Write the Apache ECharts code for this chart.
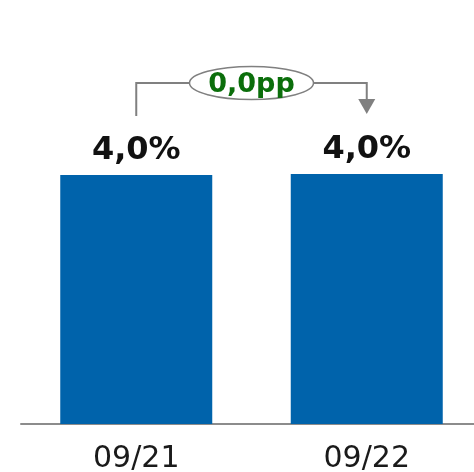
<!DOCTYPE html>
<html><head><meta charset="utf-8">
<script src="https://cdn.jsdelivr.net/npm/echarts@6/dist/echarts.min.js"></script>
<style>html,body{margin:0;padding:0;background:#fff}#c{width:474px;height:472px}</style>
</head><body><div id="c"></div>
<script>
const categories = ['09/21', '09/22'];
const values = [3.985, 4.0];
const changeLabel = '0,0pp';

const chart = echarts.init(document.getElementById('c'), null, {renderer: 'canvas'});
const option = {
  animation: false,
  grid: {left: 21, top: 49, width: 461, bottom: 48, containLabel: false, outerBoundsMode: 'none'},
  xAxis: {
    type: 'category', data: categories,
    axisTick: {show: false},
    axisLine: {lineStyle: {color: '#8c8c8c', width: 2}},
    axisLabel: {fontSize: 30, color: '#1a1a1a', fontFamily: 'DejaVu Sans', margin: 20}
  },
  yAxis: {type: 'value', min: 0, max: 6, show: false, splitLine: {show: false}},
  series: [{
    type: 'bar', data: values, barWidth: 152,
    itemStyle: {color: '#0063AB'},
    label: {
      show: true, position: 'top', distance: 8,
      fontSize: 32, fontWeight: 'bold', color: '#111', fontFamily: 'DejaVu Sans',
      formatter: p => p.value.toFixed(1).replace('.', ',') + '%'
    }
  }]
};
chart.setOption(option);

const px = (i, v) => chart.convertToPixel({seriesIndex: 0}, [i, v]);
const a = px(0, 4.93), top1 = px(0, 5.456), top2 = px(1, 5.456), base2 = px(1, 5.2), tip2 = px(1, 4.96);
const cx = (a[0] + top2[0]) / 2, cy = top1[1];
const grey = '#808080';
chart.setOption({
  graphic: [
    {type: 'polyline', z: 100, shape: {points: [a, top1, top2, base2]}, style: {stroke: grey, lineWidth: 2, fill: null}},
    {type: 'polygon', z: 100, shape: {points: [[base2[0] - 8.5, base2[1]], [base2[0] + 8.5, base2[1]], tip2]}, style: {fill: grey}},
    {type: 'ellipse', z: 101, shape: {cx: cx, cy: cy, rx: 62, ry: 16.5}, style: {fill: '#fff', stroke: grey, lineWidth: 1.5}},
    {type: 'text', z: 102, x: cx, y: cy + 1.5, style: {text: changeLabel, align: 'center', verticalAlign: 'middle', fontSize: 27, fontWeight: 'bold', fontFamily: 'DejaVu Sans', fill: '#0B6E0B'}}
  ]
});
</script></body></html>
